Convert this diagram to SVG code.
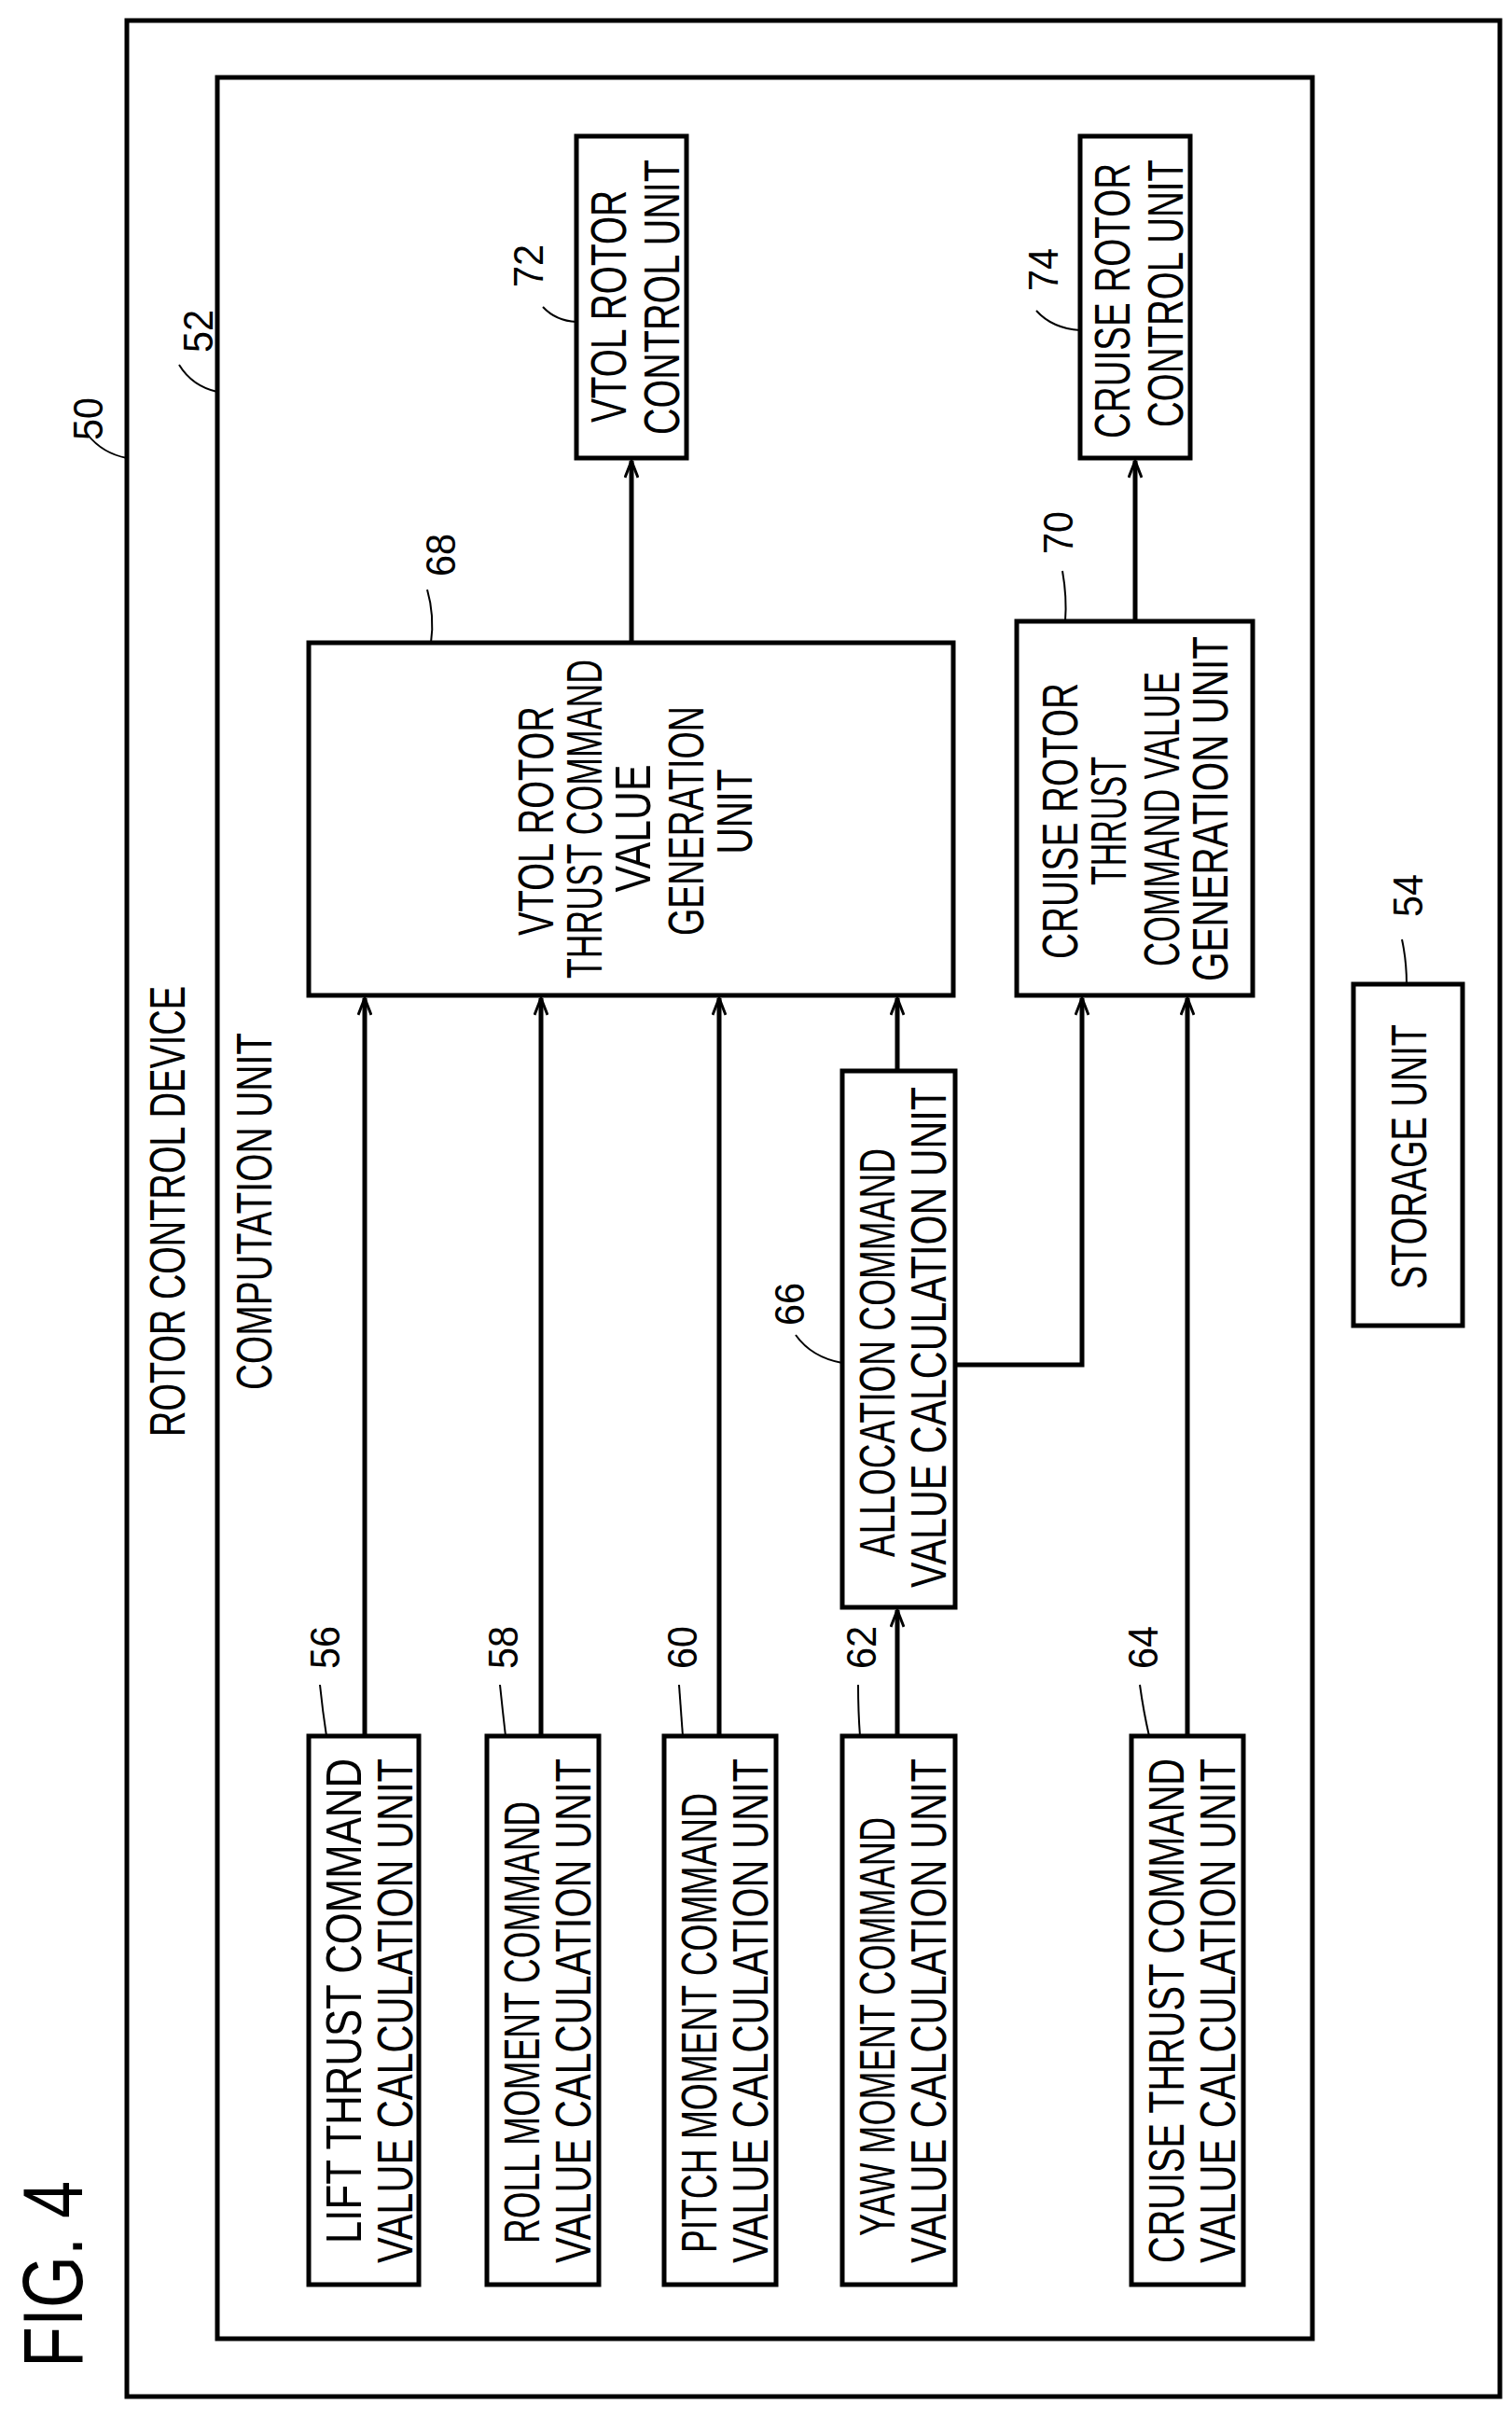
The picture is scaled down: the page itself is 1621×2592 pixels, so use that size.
<svg xmlns="http://www.w3.org/2000/svg" width="1621" height="2592" viewBox="0 0 1621 2592">
<style>
.b{fill:none;stroke:#000;stroke-width:5}
.c{fill:none;stroke:#000;stroke-width:5}
.l{fill:none;stroke:#000;stroke-width:2}
text{font-family:"Liberation Sans",Arial,sans-serif;font-size:54px;fill:#000}
.n{font-size:44px}
</style>
<defs>
<marker id="a" markerWidth="22" markerHeight="16" refX="20" refY="8" orient="auto" markerUnits="userSpaceOnUse" viewBox="0 0 22 16">
<path d="M2,1 L20,8 L2,15" fill="none" stroke="#000" stroke-width="3"/>
</marker>
</defs>
<rect width="1621" height="2592" fill="#fff"/>
<g id="fig"><text transform="rotate(-90)" x="-2538" y="88" style="font-size:90px" textLength="200" lengthAdjust="spacingAndGlyphs">FIG. 4</text></g>
<g id="n50"><rect class="b" x="136" y="22" width="1472" height="2547"/>
<text transform="rotate(-90)" x="-1540" y="198" textLength="483" lengthAdjust="spacingAndGlyphs">ROTOR CONTROL DEVICE</text>
<text class="n" transform="rotate(-90)" x="-472" y="110" textLength="46" lengthAdjust="spacingAndGlyphs">50</text>
<path class="l" d="M94,466 Q110,486 136,491"/></g>
<g id="n52"><rect class="b" x="233" y="83" width="1174" height="2424"/>
<text transform="rotate(-90)" x="-1490" y="291" textLength="383" lengthAdjust="spacingAndGlyphs">COMPUTATION UNIT</text>
<text class="n" transform="rotate(-90)" x="-378" y="228" textLength="46" lengthAdjust="spacingAndGlyphs">52</text>
<path class="l" d="M192,391 Q206,414 233,420"/></g>
<g id="n72"><rect class="b" x="618" y="146" width="118" height="345"/>
<text transform="rotate(-90)" x="-453" y="671" textLength="249" lengthAdjust="spacingAndGlyphs">VTOL ROTOR</text>
<text transform="rotate(-90)" x="-466" y="728" textLength="295" lengthAdjust="spacingAndGlyphs">CONTROL UNIT</text>
<text class="n" transform="rotate(-90)" x="-308" y="582" textLength="46" lengthAdjust="spacingAndGlyphs">72</text>
<path class="l" d="M582,329 Q596,344 618,345"/></g>
<g id="n74"><rect class="b" x="1158" y="146" width="118" height="345"/>
<text transform="rotate(-90)" x="-470" y="1211" textLength="295" lengthAdjust="spacingAndGlyphs">CRUISE ROTOR</text>
<text transform="rotate(-90)" x="-458" y="1268" textLength="287" lengthAdjust="spacingAndGlyphs">CONTROL UNIT</text>
<text class="n" transform="rotate(-90)" x="-312" y="1134" textLength="46" lengthAdjust="spacingAndGlyphs">74</text>
<path class="l" d="M1111,333 Q1128,352 1158,354"/></g>
<g id="n68"><rect class="b" x="331" y="689" width="691" height="378"/>
<text transform="rotate(-90)" x="-880" y="593" text-anchor="middle" textLength="246" lengthAdjust="spacingAndGlyphs">VTOL ROTOR</text>
<text transform="rotate(-90)" x="-878" y="645" text-anchor="middle" textLength="342" lengthAdjust="spacingAndGlyphs">THRUST COMMAND</text>
<text transform="rotate(-90)" x="-888" y="697" text-anchor="middle" textLength="137" lengthAdjust="spacingAndGlyphs">VALUE</text>
<text transform="rotate(-90)" x="-880" y="754" text-anchor="middle" textLength="246" lengthAdjust="spacingAndGlyphs">GENERATION</text>
<text transform="rotate(-90)" x="-870" y="806" text-anchor="middle" textLength="91" lengthAdjust="spacingAndGlyphs">UNIT</text>
<text class="n" transform="rotate(-90)" x="-618" y="488" textLength="46" lengthAdjust="spacingAndGlyphs">68</text>
<path class="l" d="M458,632 Q466,660 462,689"/></g>
<g id="n70"><rect class="b" x="1090" y="666" width="253" height="401"/>
<text transform="rotate(-90)" x="-1028" y="1155" textLength="296" lengthAdjust="spacingAndGlyphs">CRUISE ROTOR</text>
<text transform="rotate(-90)" x="-949" y="1207" textLength="138" lengthAdjust="spacingAndGlyphs">THRUST</text>
<text transform="rotate(-90)" x="-1036" y="1264" textLength="316" lengthAdjust="spacingAndGlyphs">COMMAND VALUE</text>
<text transform="rotate(-90)" x="-1052" y="1316" textLength="370" lengthAdjust="spacingAndGlyphs">GENERATION UNIT</text>
<text class="n" transform="rotate(-90)" x="-594" y="1150" textLength="46" lengthAdjust="spacingAndGlyphs">70</text>
<path class="l" d="M1139,612 Q1144,640 1142,666"/></g>
<g id="n54"><rect class="b" x="1451" y="1055" width="117" height="366"/>
<text transform="rotate(-90)" x="-1382" y="1529" textLength="284" lengthAdjust="spacingAndGlyphs">STORAGE UNIT</text>
<text class="n" transform="rotate(-90)" x="-983" y="1525" textLength="46" lengthAdjust="spacingAndGlyphs">54</text>
<path class="l" d="M1503,1007 Q1508,1030 1508,1055"/></g>
<g id="n66"><rect class="b" x="903" y="1148" width="121" height="575"/>
<text transform="rotate(-90)" x="-1669" y="959" textLength="438" lengthAdjust="spacingAndGlyphs">ALLOCATION COMMAND</text>
<text transform="rotate(-90)" x="-1702" y="1014" textLength="537" lengthAdjust="spacingAndGlyphs">VALUE CALCULATION UNIT</text>
<text class="n" transform="rotate(-90)" x="-1421" y="862" textLength="46" lengthAdjust="spacingAndGlyphs">66</text>
<path class="l" d="M853,1431 Q870,1455 903,1461"/></g>
<g id="n56"><rect class="b" x="331" y="1861" width="118" height="588"/>
<text transform="rotate(-90)" x="-2405" y="387" textLength="520" lengthAdjust="spacingAndGlyphs">LIFT THRUST COMMAND</text>
<text transform="rotate(-90)" x="-2426" y="442" textLength="541" lengthAdjust="spacingAndGlyphs">VALUE CALCULATION UNIT</text>
<text class="n" transform="rotate(-90)" x="-1789" y="364" textLength="46" lengthAdjust="spacingAndGlyphs">56</text>
<path class="l" d="M343,1806 Q346,1835 350,1861"/></g>
<g id="n58"><rect class="b" x="522" y="1861" width="120" height="588"/>
<text transform="rotate(-90)" x="-2405" y="578" textLength="474" lengthAdjust="spacingAndGlyphs">ROLL MOMENT COMMAND</text>
<text transform="rotate(-90)" x="-2426" y="633" textLength="541" lengthAdjust="spacingAndGlyphs">VALUE CALCULATION UNIT</text>
<text class="n" transform="rotate(-90)" x="-1789" y="555" textLength="46" lengthAdjust="spacingAndGlyphs">58</text>
<path class="l" d="M536,1806 Q539,1835 542,1861"/></g>
<g id="n60"><rect class="b" x="712" y="1861" width="120" height="588"/>
<text transform="rotate(-90)" x="-2415" y="768" textLength="493" lengthAdjust="spacingAndGlyphs">PITCH MOMENT COMMAND</text>
<text transform="rotate(-90)" x="-2426" y="823" textLength="541" lengthAdjust="spacingAndGlyphs">VALUE CALCULATION UNIT</text>
<text class="n" transform="rotate(-90)" x="-1789" y="747" textLength="46" lengthAdjust="spacingAndGlyphs">60</text>
<path class="l" d="M728,1806 Q730,1835 732,1861"/></g>
<g id="n62"><rect class="b" x="903" y="1861" width="121" height="588"/>
<text transform="rotate(-90)" x="-2397" y="959" textLength="449" lengthAdjust="spacingAndGlyphs">YAW MOMENT COMMAND</text>
<text transform="rotate(-90)" x="-2426" y="1014" textLength="541" lengthAdjust="spacingAndGlyphs">VALUE CALCULATION UNIT</text>
<text class="n" transform="rotate(-90)" x="-1789" y="939" textLength="46" lengthAdjust="spacingAndGlyphs">62</text>
<path class="l" d="M920,1806 Q920,1835 922,1861"/></g>
<g id="n64"><rect class="b" x="1213" y="1861" width="120" height="588"/>
<text transform="rotate(-90)" x="-2426" y="1269" textLength="541" lengthAdjust="spacingAndGlyphs">CRUISE THRUST COMMAND</text>
<text transform="rotate(-90)" x="-2426" y="1324" textLength="541" lengthAdjust="spacingAndGlyphs">VALUE CALCULATION UNIT</text>
<text class="n" transform="rotate(-90)" x="-1789" y="1241" textLength="46" lengthAdjust="spacingAndGlyphs">64</text>
<path class="l" d="M1222,1806 Q1226,1835 1232,1861"/></g>
<g id="connectors">
<path class="c" marker-end="url(#a)" d="M677,689 V494"/>
<path class="c" marker-end="url(#a)" d="M1217,666 V494"/>
<path class="c" marker-end="url(#a)" d="M391,1861 V1070"/>
<path class="c" marker-end="url(#a)" d="M580,1861 V1070"/>
<path class="c" marker-end="url(#a)" d="M771,1861 V1070"/>
<path class="c" marker-end="url(#a)" d="M962,1148 V1070"/>
<path class="c" marker-end="url(#a)" d="M962,1861 V1726"/>
<path class="c" marker-end="url(#a)" d="M1024,1463 H1160 V1070"/>
<path class="c" marker-end="url(#a)" d="M1273,1861 V1070"/>
</g>
</svg>
